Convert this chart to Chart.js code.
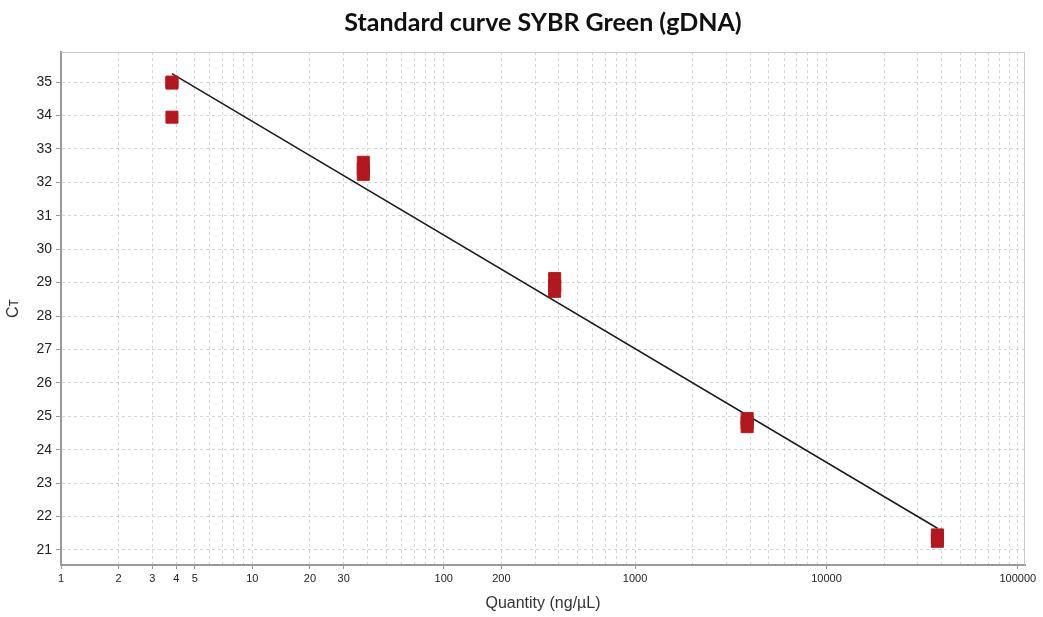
<!DOCTYPE html>
<html>
<head>
<meta charset="utf-8">
<script src="https://cdn.jsdelivr.net/npm/chart.js@4/dist/chart.umd.min.js"></script>
<style>
  html, body { margin: 0; padding: 0; background: #fff; }
  #wrap { width: 1043px; height: 617px; position: relative; }
</style>
</head>
<body>
<div id="wrap"><canvas id="curveChart"></canvas></div>
<script>
// replicate measurements (quantity in ng/uL, Ct)
var sampleQty = [3.8, 3.8, 3.8, 38, 38, 38, 380, 380, 380, 3850, 3850, 3850, 38000, 38000, 38000];
var sampleCt  = [35.0, 34.97, 33.95, 32.6, 32.4, 32.24, 29.12, 28.9, 28.74, 24.93, 24.8, 24.69, 21.45, 21.35, 21.26];

// fitted standard curve, end points
var fitQty = [3.8, 38000];
var fitCt  = [35.25, 21.65];

// x tick labels that are printed
var xTickLabels = [1, 2, 3, 4, 5, 10, 20, 30, 100, 200, 1000, 10000, 100000];

var points = sampleQty.map(function (q, i) { return { x: q, y: sampleCt[i] }; });
var fitLine = fitQty.map(function (q, i) { return { x: q, y: fitCt[i] }; });

// light frame around the plot area (top and right sides)
var framePlugin = {
    id: 'frame',
    beforeDatasetsDraw: function (chart) {
        var a = chart.chartArea, ctx = chart.ctx;
        ctx.save();
        ctx.strokeStyle = '#c8c8c8';
        ctx.lineWidth = 1;
        ctx.beginPath();
        ctx.moveTo(a.left, a.top + 0.5);
        ctx.lineTo(a.right - 0.5, a.top + 0.5);
        ctx.lineTo(a.right - 0.5, a.bottom);
        ctx.stroke();
        ctx.restore();
    }
};

var ctx = document.getElementById('curveChart').getContext('2d');
var myChart = new Chart(ctx, {
    type: 'scatter',
    data: {
        datasets: [{
            label: 'Standard curve',
            type: 'line',
            data: fitLine,
            borderColor: '#1a1a1a',
            borderWidth: 1.5,
            pointRadius: 0,
            fill: false,
            order: 2
        }, {
            label: 'Samples',
            data: points,
            pointStyle: 'rect',
            pointRadius: 8.5,
            pointHoverRadius: 8.5,
            backgroundColor: '#b3181f',
            borderColor: '#b3181f',
            borderWidth: 1,
            order: 1
        }]
    },
    options: {
        responsive: true,
        maintainAspectRatio: false,
        animation: false,
        layout: { padding: { left: 4, right: 18, top: 0, bottom: 4 } },
        plugins: {
            legend: { display: false },
            tooltip: { enabled: false },
            title: {
                display: true,
                fullSize: false,
                text: 'Standard curve SYBR Green (gDNA)',
                color: '#111',
                font: { family: 'Lato', size: 25, weight: 'bold', lineHeight: 1.2 },
                padding: { top: 8, bottom: 14 }
            }
        },
        scales: {
            x: {
                type: 'logarithmic',
                min: 1,
                max: 109000,
                afterBuildTicks: function (scale) {
                    var t = [];
                    for (var e = 0; e <= 5; e++) {
                        for (var m = 1; m <= 9; m++) {
                            var v = m * Math.pow(10, e);
                            if (v <= 100000) t.push({ value: v });
                        }
                    }
                    scale.ticks = t;
                },
                afterFit: function (scale) { scale.height = 48; },
                ticks: {
                    autoSkip: false,
                    maxRotation: 0,
                    padding: 3,
                    color: '#222',
                    font: { family: 'Liberation Sans', size: 11 },
                    callback: function (v) {
                        return xTickLabels.indexOf(v) >= 0 ? String(v) : '';
                    }
                },
                grid: {
                    color: '#d6d6d6',
                    lineWidth: 1,
                    tickLength: 4,
                    tickColor: function (c) {
                        return c.tick && xTickLabels.indexOf(c.tick.value) >= 0 ? '#999' : 'rgba(0,0,0,0)';
                    },
                    tickBorderDash: []
                },
                border: { display: true, color: '#9a9a9a', width: 2, dash: [3, 3] },
                title: {
                    display: true,
                    text: 'Quantity (ng/\u00b5L)',
                    color: '#333',
                    font: { family: 'Liberation Sans', size: 16 },
                    padding: { top: 2, bottom: 0 }
                }
            },
            y: {
                min: 20.55,
                max: 35.9,
                afterBuildTicks: function (scale) {
                    var t = [];
                    for (var v = 21; v <= 35; v++) t.push({ value: v });
                    scale.ticks = t;
                },
                afterFit: function (scale) { scale.width = 57; },
                ticks: {
                    padding: 4,
                    color: '#222',
                    font: { family: 'Liberation Sans', size: 14 }
                },
                grid: {
                    color: '#d6d6d6',
                    lineWidth: 1,
                    tickLength: 5,
                    tickColor: '#999',
                    tickBorderDash: []
                },
                border: { display: true, color: '#9a9a9a', width: 2, dash: [3, 3] },
                title: {
                    display: true,
                    text: 'C\u1d1b',
                    color: '#333',
                    font: { family: 'Liberation Sans', size: 16 },
                    padding: { top: 0, bottom: 6 }
                }
            }
        }
    },
    plugins: [framePlugin]
});
</script>
</body>
</html>
